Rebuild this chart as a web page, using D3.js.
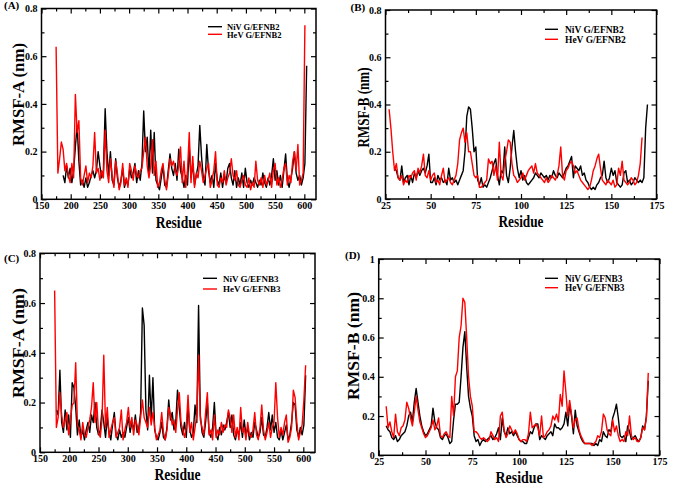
<!DOCTYPE html>
<html><head><meta charset="utf-8">
<script src="https://cdn.jsdelivr.net/npm/d3@7"></script>
<style>body{margin:0;background:#fff}svg{display:block}text{font-family:"Liberation Serif","Times New Roman",serif;font-weight:bold}</style>
</head><body><svg id="c" width="676" height="489"></svg>
<script>
// ---------- DATA ----------
const residuesAC = d3.range(175, 605, 3);   // residue numbers, panels A & C
const residuesBD = d3.range(27, 171, 1);    // residue numbers, panels B & D

const nivA = [null,null,null,null,0.10,0.07,0.14,0.09,0.13,0.07,0.12,0.22,
0.31,0.16,0.06,0.08,0.05,0.09,0.05,0.07,0.10,0.12,0.09,0.12,
0.20,0.14,0.09,0.12,0.38,0.20,0.10,0.20,0.08,0.06,0.17,0.09,
0.05,0.08,0.13,0.05,0.08,0.06,0.13,0.09,0.11,0.15,0.07,0.12,
0.08,0.15,0.37,0.20,0.26,0.10,0.29,0.11,0.28,0.08,0.06,0.04,
0.09,0.14,0.06,0.05,0.12,0.19,0.13,0.10,0.15,0.08,0.21,0.12,
0.09,0.05,0.10,0.06,0.22,0.09,0.15,0.06,0.10,0.14,0.31,0.18,
0.09,0.06,0.23,0.12,0.07,0.10,0.05,0.15,0.08,0.06,0.11,0.05,
0.10,0.07,0.13,0.15,0.09,0.06,0.12,0.05,0.09,0.06,0.11,0.05,
0.13,0.07,0.05,0.08,0.06,0.09,0.07,0.05,0.08,0.06,0.11,0.07,
0.05,0.09,0.06,0.10,0.17,0.08,0.12,0.06,0.10,0.05,0.12,0.19,
0.08,0.05,0.09,0.13,0.20,0.11,0.08,0.10,0.06,0.09,0.15,0.56];
const hevA = [0.64,0.11,0.17,0.24,0.21,0.12,0.15,0.10,0.07,0.15,0.09,0.44,
0.28,0.33,0.09,0.06,0.10,0.14,0.07,0.11,0.09,0.14,0.28,0.11,
0.13,0.08,0.12,0.09,0.29,0.12,0.07,0.17,0.10,0.05,0.16,0.11,
0.04,0.07,0.15,0.06,0.09,0.05,0.15,0.12,0.08,0.14,0.10,0.09,
0.12,0.13,0.20,0.26,0.14,0.09,0.14,0.25,0.10,0.16,0.05,0.07,
0.12,0.15,0.08,0.04,0.10,0.17,0.14,0.16,0.12,0.10,0.14,0.22,
0.07,0.16,0.05,0.12,0.28,0.07,0.18,0.05,0.11,0.09,0.16,0.12,
0.07,0.10,0.13,0.15,0.05,0.08,0.12,0.20,0.06,0.05,0.09,0.07,
0.12,0.06,0.09,0.11,0.17,0.10,0.08,0.12,0.06,0.05,0.08,0.10,
0.06,0.05,0.09,0.04,0.07,0.05,0.16,0.08,0.06,0.09,0.05,0.10,
0.06,0.08,0.11,0.05,0.12,0.15,0.06,0.09,0.05,0.08,0.13,0.15,
0.06,0.10,0.07,0.16,0.20,0.12,0.23,0.06,0.08,0.11,0.73,null];

const nivC = [null,0.17,0.15,0.33,0.12,0.08,0.17,0.09,0.15,0.06,0.28,0.26,
0.18,0.07,0.13,0.06,0.09,0.05,0.09,0.12,0.08,0.15,0.12,0.20,
0.10,0.07,0.09,0.17,0.12,0.06,0.14,0.08,0.05,0.11,0.16,0.07,
0.05,0.09,0.06,0.08,0.06,0.10,0.14,0.08,0.12,0.09,0.15,0.08,
0.10,0.16,0.58,0.51,0.17,0.09,0.31,0.13,0.30,0.09,0.06,0.05,
0.08,0.12,0.06,0.05,0.10,0.21,0.13,0.16,0.09,0.12,0.25,0.18,
0.10,0.07,0.12,0.06,0.19,0.09,0.06,0.08,0.19,0.12,0.59,0.15,
0.08,0.06,0.12,0.20,0.08,0.06,0.10,0.20,0.07,0.05,0.10,0.07,
0.11,0.09,0.12,0.16,0.10,0.15,0.07,0.05,0.09,0.07,0.12,0.06,
0.13,0.07,0.10,0.05,0.08,0.06,0.12,0.09,0.06,0.08,0.14,0.07,
0.06,0.10,0.16,0.09,0.15,0.08,0.12,0.06,0.05,0.09,0.05,0.08,
0.11,0.05,0.07,0.12,0.20,0.19,0.09,0.06,0.10,0.07,0.11,0.31];
const hevC = [0.65,0.10,0.14,0.24,0.15,0.10,0.13,0.16,0.07,0.13,0.19,0.20,
0.36,0.11,0.09,0.05,0.12,0.07,0.06,0.10,0.13,0.18,0.28,0.12,
0.20,0.08,0.06,0.13,0.39,0.10,0.18,0.06,0.09,0.12,0.14,0.06,
0.08,0.10,0.17,0.05,0.09,0.12,0.18,0.10,0.14,0.07,0.13,0.11,
0.07,0.14,0.21,0.14,0.12,0.10,0.18,0.11,0.16,0.10,0.05,0.07,
0.09,0.16,0.08,0.05,0.09,0.18,0.15,0.11,0.13,0.08,0.17,0.24,
0.12,0.09,0.06,0.10,0.23,0.08,0.12,0.05,0.10,0.15,0.39,0.13,
0.10,0.07,0.16,0.24,0.07,0.09,0.05,0.15,0.06,0.09,0.07,0.12,
0.08,0.11,0.10,0.17,0.14,0.08,0.15,0.06,0.10,0.05,0.18,0.08,
0.10,0.05,0.12,0.07,0.06,0.09,0.16,0.07,0.05,0.10,0.19,0.09,
0.05,0.08,0.12,0.06,0.10,0.12,0.28,0.14,0.06,0.10,0.07,0.12,
0.15,0.04,0.06,0.10,0.25,0.22,0.12,0.05,0.08,0.11,0.21,0.35];

const nivB = [null,null,null,0.13,0.12,0.09,0.08,0.14,0.07,0.09,0.10,0.06,
0.10,0.07,0.11,0.09,0.12,0.10,0.12,0.13,0.11,0.14,0.19,0.07,
0.07,0.09,0.06,0.10,0.08,0.09,0.07,0.08,0.06,0.13,0.08,0.09,
0.07,0.08,0.06,0.08,0.10,0.12,0.20,0.35,0.39,0.38,0.30,0.20,
0.22,0.08,0.06,0.09,0.05,0.06,0.05,0.07,0.09,0.12,0.15,0.17,
0.10,0.06,0.12,0.11,0.22,0.10,0.07,0.13,0.22,0.29,0.20,0.13,
0.09,0.12,0.08,0.10,0.07,0.06,0.07,0.08,0.09,0.11,0.10,0.09,
0.11,0.10,0.09,0.10,0.08,0.10,0.09,0.12,0.10,0.09,0.11,0.10,
0.09,0.11,0.13,0.14,0.16,0.18,0.09,0.14,0.13,0.12,0.14,0.10,
0.11,0.08,0.07,0.05,0.04,0.05,0.04,0.06,0.07,0.09,0.10,0.16,
0.09,0.07,0.09,0.13,0.10,0.12,0.07,0.06,0.05,0.06,0.11,0.12,
0.07,0.08,0.06,0.07,0.09,0.08,0.07,0.08,0.07,0.09,0.30,0.40];
const hevB = [0.38,0.30,0.20,0.12,0.15,0.09,0.08,0.10,0.06,0.08,0.07,0.10,
0.09,0.11,0.12,0.08,0.13,0.11,0.14,0.19,0.10,0.09,0.12,0.08,
0.10,0.11,0.07,0.08,0.06,0.10,0.13,0.07,0.08,0.09,0.07,0.06,
0.08,0.10,0.15,0.25,0.28,0.30,0.24,0.28,0.20,0.20,0.15,0.10,
0.09,0.10,0.05,0.05,0.06,0.07,0.08,0.17,0.15,0.16,0.10,0.14,
0.08,0.24,0.10,0.08,0.16,0.20,0.25,0.24,0.15,0.10,0.09,0.07,
0.08,0.09,0.11,0.08,0.10,0.12,0.13,0.14,0.11,0.15,0.11,0.10,
0.09,0.08,0.07,0.09,0.07,0.08,0.10,0.09,0.08,0.10,0.14,0.22,
0.10,0.08,0.12,0.13,0.15,0.16,0.14,0.11,0.12,0.10,0.08,0.07,
0.06,0.05,0.04,0.05,0.08,0.12,0.14,0.17,0.19,0.13,0.08,0.07,
0.06,0.08,0.07,0.06,0.08,0.05,0.06,0.13,0.10,0.16,0.08,0.07,
0.06,0.07,0.09,0.08,0.06,0.07,0.10,0.15,0.26,null,null,null];

const nivD = [null,null,0.15,0.13,0.12,0.09,0.08,0.10,0.07,0.08,0.10,0.11,
0.12,0.15,0.20,0.22,0.17,0.27,0.34,0.27,0.20,0.15,0.12,0.10,
0.11,0.13,0.15,0.24,0.17,0.14,0.13,0.09,0.08,0.10,0.11,0.09,
0.06,0.07,0.18,0.26,0.26,0.27,0.40,0.55,0.63,0.45,0.30,0.24,
0.20,0.10,0.07,0.08,0.05,0.07,0.08,0.07,0.08,0.09,0.10,0.08,
0.09,0.11,0.14,0.08,0.19,0.12,0.10,0.14,0.11,0.12,0.10,0.12,
0.10,0.08,0.07,0.07,0.06,0.06,0.09,0.12,0.11,0.14,0.16,0.16,
0.08,0.10,0.09,0.08,0.10,0.11,0.12,0.10,0.16,0.14,0.14,0.13,
0.14,0.16,0.22,0.15,0.26,0.20,0.11,0.23,0.15,0.12,0.09,0.07,
0.06,0.06,0.06,0.06,0.06,0.05,0.06,0.05,0.08,0.07,0.12,0.10,
0.09,0.13,0.12,0.19,0.22,0.26,0.19,0.10,0.09,0.10,0.07,0.15,
0.12,0.08,0.09,0.10,0.08,0.07,0.09,0.15,0.13,0.20,0.38,null];
const hevD = [null,null,0.25,0.14,0.17,0.12,0.09,0.21,0.12,0.10,0.14,0.15,
0.18,0.27,0.24,0.19,0.15,0.22,0.30,0.23,0.17,0.14,0.11,0.09,
0.10,0.12,0.14,0.18,0.13,0.15,0.19,0.10,0.09,0.11,0.12,0.10,
0.09,0.30,0.20,0.40,0.43,0.60,0.66,0.80,0.78,0.60,0.40,0.30,
0.25,0.12,0.12,0.11,0.09,0.08,0.09,0.08,0.07,0.08,0.12,0.10,
0.08,0.09,0.07,0.20,0.22,0.13,0.09,0.11,0.15,0.13,0.11,0.13,
0.11,0.08,0.07,0.08,0.08,0.07,0.11,0.22,0.14,0.15,0.16,0.14,
0.10,0.20,0.09,0.10,0.12,0.13,0.15,0.20,0.18,0.21,0.17,0.31,
0.25,0.43,0.32,0.20,0.28,0.21,0.14,0.18,0.19,0.13,0.10,0.08,
0.06,0.06,0.06,0.06,0.05,0.06,0.07,0.10,0.09,0.12,0.21,0.19,
0.13,0.11,0.10,0.18,0.12,0.15,0.10,0.07,0.08,0.07,0.12,0.10,
0.20,0.10,0.08,0.09,0.07,0.07,0.09,0.14,0.13,0.19,0.42,null];

const xTicksAC = [150,200,250,300,350,400,450,500,550,600];
const xMinorAC = [175,225,275,325,375,425,475,525,575];
const xTicksBD = [25,50,75,100,125,150,175];
const xMinorBD = [37.5,62.5,87.5,112.5,137.5,162.5];
const yTicks08 = [0,0.2,0.4,0.6,0.8];
const yMinor08 = [0.1,0.3,0.5,0.7];
const yTicks10 = [0,0.2,0.4,0.6,0.8,1];
const yMinor10 = [0.1,0.3,0.5,0.7,0.9];
const legendB2 = ["NiV G/EFNB2","HeV G/EFNB2"];
const legendB3 = ["NiV G/EFNB3","HeV G/EFNB3"];
const seriesColors = ["#000000","#ff0000"];

// ---------- LAYOUT ----------
const panels = [
 {tag:"(A)", tagX:4, tagY:9, res:residuesAC, s:[nivA,hevA], names:legendB2,
  xd:[150,620], xt:xTicksAC, xm:xMinorAC, yd:[0,0.8], yt:yTicks08, ym:yMinor08,
  L:41.5, R:316, T:8.5, B:199.3, ytitle:"RMSF-A (nm)", ytx:24, yty:94.5, ytl:103,
  xty:228, xtl:46, lg:{x:208, y:[26.7,34.3], tx:227, fs:8.5, w:14}},
 {tag:"(B)", tagX:350.5, tagY:10.5, res:residuesBD, s:[nivB,hevB], names:legendB2,
  xd:[25,175], xt:xTicksBD, xm:xMinorBD, yd:[0,0.8], yt:yTicks08, ym:yMinor08,
  L:385.5, R:656.5, T:10, B:199, ytitle:"RMSF-B (nm)", ytx:369, yty:107.5, ytl:80,
  xty:226.5, xtl:45, lg:{x:545, y:[29.3,39.3], tx:565, fs:9.5, w:13}},
 {tag:"(C)", tagX:4, tagY:262, res:residuesAC, s:[nivC,hevC], names:legendB3,
  xd:[150,620], xt:xTicksAC, xm:xMinorAC, yd:[0,0.8], yt:yTicks08, ym:yMinor08,
  L:40, R:315, T:253.3, B:452.3, ytitle:"RMSF-A (nm)", ytx:23.5, yty:343, ytl:110,
  xty:480, xtl:46, lg:{x:203, y:[278.3,289], tx:223, fs:9, w:14}},
 {tag:"(D)", tagX:345, tagY:259, res:residuesBD, s:[nivD,hevD], names:legendB3,
  xd:[25,175], xt:xTicksBD, xm:xMinorBD, yd:[0,1], yt:yTicks10, ym:yMinor10,
  L:378.7, R:659.5, T:259, B:455.3, ytitle:"RMSF-B (nm)", ytx:359, yty:346, ytl:108,
  xty:483, xtl:47, lg:{x:545, y:[278.3,287.7], tx:565, fs:9.3, w:13}}
];

const svg = d3.select("#c");
const yfmt = d => d === 0 ? "0" : (d === 1 ? "1" : d3.format(".1f")(d));

panels.forEach(p => {
  const x = d3.scaleLinear().domain(p.xd).range([p.L, p.R]);
  const y = d3.scaleLinear().domain(p.yd).range([p.B, p.T]);
  const g = svg.append("g");

  // data lines
  p.s.forEach((vals, k) => {
    const pts = p.res.map((r, i) => [r, vals[i]]);
    g.append("path").datum(pts)
      .attr("fill", "none").attr("stroke", seriesColors[k]).attr("stroke-width", 1.4)
      .attr("stroke-linejoin", "round")
      .attr("d", d3.line().defined(d => d[1] != null).x(d => x(d[0])).y(d => y(d[1])));
  });

  const styleAxis = sel => { sel.select(".domain").remove();
    sel.selectAll("line").attr("stroke", "#000").attr("stroke-width", 1.2);
    sel.selectAll("text").attr("font-size", 10).attr("fill", "#000")
      .attr("font-family", '"Liberation Serif",serif').attr("font-weight", "bold"); };

  // bottom
  g.append("g").attr("transform", `translate(0,${p.B})`)
    .call(d3.axisBottom(x).tickValues(p.xt).tickSize(-5).tickPadding(3).tickFormat(d3.format("d"))).call(styleAxis);
  g.append("g").attr("transform", `translate(0,${p.B})`)
    .call(d3.axisBottom(x).tickValues(p.xm).tickSize(-3).tickFormat("")).call(styleAxis);
  // top
  g.append("g").attr("transform", `translate(0,${p.T})`)
    .call(d3.axisTop(x).tickValues(p.xt).tickSize(-5).tickFormat("")).call(styleAxis);
  g.append("g").attr("transform", `translate(0,${p.T})`)
    .call(d3.axisTop(x).tickValues(p.xm).tickSize(-3).tickFormat("")).call(styleAxis);
  // left
  g.append("g").attr("transform", `translate(${p.L},0)`)
    .call(d3.axisLeft(y).tickValues(p.yt).tickSize(-5).tickPadding(4).tickFormat(yfmt)).call(styleAxis);
  g.append("g").attr("transform", `translate(${p.L},0)`)
    .call(d3.axisLeft(y).tickValues(p.ym).tickSize(-3).tickFormat("")).call(styleAxis);
  // right
  g.append("g").attr("transform", `translate(${p.R},0)`)
    .call(d3.axisRight(y).tickValues(p.yt).tickSize(-5).tickFormat("")).call(styleAxis);
  g.append("g").attr("transform", `translate(${p.R},0)`)
    .call(d3.axisRight(y).tickValues(p.ym).tickSize(-3).tickFormat("")).call(styleAxis);

  // frame
  g.append("rect").attr("x", p.L).attr("y", p.T).attr("width", p.R - p.L).attr("height", p.B - p.T)
    .attr("fill", "none").attr("stroke", "#000").attr("stroke-width", 1.5);

  // titles
  g.append("text").attr("x", (p.L + p.R) / 2).attr("y", p.xty).attr("text-anchor", "middle")
    .attr("font-size", 16).attr("textLength", p.xtl).attr("lengthAdjust", "spacingAndGlyphs").text("Residue");
  g.append("text").attr("transform", `translate(${p.ytx},${p.yty}) rotate(-90)`).attr("text-anchor", "middle")
    .attr("font-size", 16).attr("textLength", p.ytl).attr("lengthAdjust", "spacingAndGlyphs").text(p.ytitle);
  g.append("text").attr("x", p.tagX).attr("y", p.tagY).attr("font-size", 11).text(p.tag);

  // legend
  p.names.forEach((nm, k) => {
    g.append("line").attr("x1", p.lg.x).attr("x2", p.lg.x + p.lg.w)
      .attr("y1", p.lg.y[k]).attr("y2", p.lg.y[k]).attr("stroke", seriesColors[k]).attr("stroke-width", 1.4);
    g.append("text").attr("x", p.lg.tx).attr("y", p.lg.y[k] + 3.2).attr("font-size", p.lg.fs).text(nm);
  });
});
</script></body></html>
